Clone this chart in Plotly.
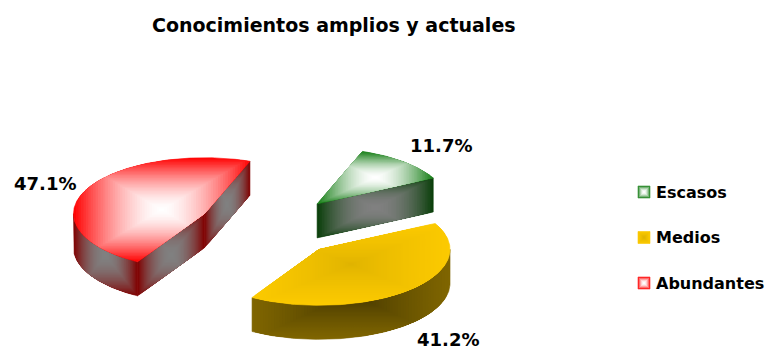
import math
import plotly.graph_objects as go

categories = ["Escasos", "Medios", "Abundantes"]
values = [11.7, 41.2, 47.1]
title_text = "Conocimientos amplios y actuales"

top_edge = [(20, 125, 20), (252, 202, 0), (255, 0, 0)]
top_core = [(255, 255, 255), (222, 178, 0), (255, 255, 255)]
side_edge = [(8, 62, 8), (128, 102, 0), (128, 0, 0)]
side_core = [(128, 128, 128), (60, 48, 0), (128, 128, 128)]
top_gamma = [1.6, 0.7, 1.6]
side_gamma = [2.0, 0.7, 2.0]

START = -69.7
CX, CY, RX, RY = 269.5, 227, 131, 56
EXPLODE = 0.55
DEPTH = 34
LEVELS = 36
FONT = "DejaVu Sans"

fig = go.Figure()


def clip(poly, x0, x1, y0, y1):
    def run(pts, inside, cross):
        out = []
        for i, p in enumerate(pts):
            q = pts[i - 1]
            if inside(p):
                if not inside(q):
                    out.append(cross(q, p))
                out.append(p)
            elif inside(q):
                out.append(cross(q, p))
        return out

    def at_x(v):
        return lambda a, b: (v, a[1] + (b[1] - a[1]) * (v - a[0]) / (b[0] - a[0]))

    def at_y(v):
        return lambda a, b: (a[0] + (b[0] - a[0]) * (v - a[1]) / (b[1] - a[1]), v)

    for inside, cross in (
        (lambda p: p[0] >= x0, at_x(x0)),
        (lambda p: p[0] <= x1, at_x(x1)),
        (lambda p: p[1] >= y0, at_y(y0)),
        (lambda p: p[1] <= y1, at_y(y1)),
    ):
        if not poly:
            return poly
        poly = run(poly, inside, cross)
    return poly


def paint(poly, edge, core, gamma, levels=LEVELS):
    xs = [p[0] for p in poly]
    ys = [p[1] for p in poly]
    mx, my = (min(xs) + max(xs)) / 2, (min(ys) + max(ys)) / 2
    hw, hh = (max(xs) - min(xs)) / 2, (max(ys) - min(ys)) / 2
    for k in range(levels, 0, -1):
        s = k / levels
        part = poly if k == levels else clip(poly, mx - hw * s, mx + hw * s, my - hh * s, my + hh * s)
        if len(part) < 3:
            continue
        d = ((k - 0.5) / levels) ** gamma
        col = [round(c + (e - c) * d) for e, c in zip(edge, core)]
        rgb = f"rgb({col[0]},{col[1]},{col[2]})"
        fig.add_trace(go.Scatter(
            x=[p[0] for p in part] + [part[0][0]],
            y=[p[1] for p in part] + [part[0][1]],
            mode="lines", line=dict(width=0.6 if k == levels else 0, color=rgb), fill="toself",
            fillcolor=rgb, hoverinfo="skip", showlegend=False,
        ))


def arc(cx, cy, a, b, dy=0.0):
    n = max(2, int(abs(b - a)) + 1)
    return [(cx + RX * math.cos(math.radians(a + (b - a) * i / n)),
             cy + dy + RY * math.sin(math.radians(a + (b - a) * i / n))) for i in range(n + 1)]


total = sum(values)
angle = START
slices = []
for i, v in enumerate(values):
    sweep = v / total * 360
    slices.append((i, angle, angle + sweep))
    angle += sweep

for i, t0, t1 in (slices[2], slices[0], slices[1]):
    mid = math.radians((t0 + t1) / 2)
    ax = CX + EXPLODE * RX * math.cos(mid)
    ay = CY + EXPLODE * RY * math.sin(mid)
    rim = arc(ax, ay, t0, t1)
    # radial walls
    if math.cos(math.radians(t0)) < 0:
        a, b = (ax, ay), rim[0]
        paint([a, b, (b[0], b[1] + DEPTH), (a[0], a[1] + DEPTH)], side_edge[i], side_core[i], side_gamma[i])
    if math.cos(math.radians(t1)) > 0:
        a, b = (ax, ay), rim[-1]
        paint([a, b, (b[0], b[1] + DEPTH), (a[0], a[1] + DEPTH)], side_edge[i], side_core[i], side_gamma[i])
    # curved wall, front half only
    for off in (-360, 0, 360):
        lo, hi = max(t0, off), min(t1, off + 180)
        if hi > lo:
            paint(arc(ax, ay, lo, hi) + arc(ax, ay, hi, lo, DEPTH), side_edge[i], side_core[i], side_gamma[i])
    paint([(ax, ay)] + rim, top_edge[i], top_core[i], top_gamma[i])

    # legend swatch
    sy = 192 + 45.5 * i
    sq = [(638, sy - 6), (650, sy - 6), (650, sy + 6), (638, sy + 6)]
    paint(sq, top_edge[i], top_core[i], top_gamma[i] * 1.2, 6)
    fig.add_annotation(x=655, y=sy, text=f"<b>{categories[i]}</b>", xanchor="left", yanchor="middle",
                       showarrow=False, borderpad=0, font=dict(family=FONT, size=16, color="#000"))

label_xy = [(441, 145), (448, 339.5), (45, 183)]
for (lx, ly), v in zip(label_xy, values):
    fig.add_annotation(x=lx, y=ly, text=f"<b>{v:.1f}%</b>", xanchor="center", yanchor="middle",
                       showarrow=False, borderpad=0, font=dict(family=FONT, size=18, color="#000"))

fig.add_annotation(x=334, y=25, text=f"<b>{title_text}</b>", xanchor="center", yanchor="middle",
                   showarrow=False, borderpad=0, font=dict(family=FONT, size=19, color="#000"))

fig.update_layout(
    width=768, height=350, margin=dict(l=0, r=0, t=0, b=0),
    paper_bgcolor="white", plot_bgcolor="white", showlegend=False,
    xaxis=dict(range=[0, 768], visible=False, fixedrange=True),
    yaxis=dict(range=[350, 0], visible=False, fixedrange=True),
)
fig.write_html("out.html", config={"displayModeBar": False},
               post_script="document.body.style.margin='0';")
